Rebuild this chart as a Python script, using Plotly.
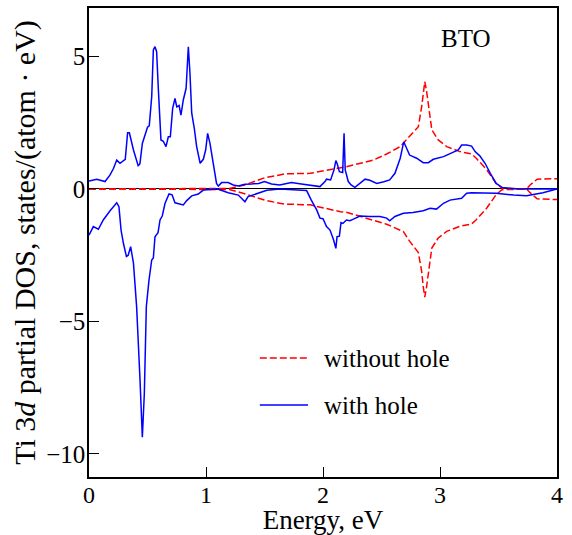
import plotly.graph_objects as go

# ---- data ----
blue_up_x = [0.000, 0.066, 0.137, 0.180, 0.210, 0.237, 0.265, 0.310, 0.330, 0.345,
             0.380, 0.420, 0.435, 0.456, 0.500, 0.515, 0.536, 0.550, 0.564, 0.578,
             0.593, 0.615, 0.635, 0.658, 0.678, 0.695, 0.715, 0.735, 0.750, 0.770,
             0.786, 0.806, 0.830, 0.849, 0.863, 0.878, 0.900, 0.920, 0.950, 0.977,
             0.997, 1.014, 1.034, 1.063, 1.090, 1.105, 1.134, 1.190, 1.233, 1.276,
             1.333, 1.390, 1.450, 1.500, 1.560, 1.630, 1.730, 1.800, 1.974, 2.017,
             2.030, 2.065, 2.094, 2.110, 2.120, 2.140, 2.168, 2.180, 2.190, 2.216,
             2.240, 2.273, 2.316, 2.360, 2.400, 2.460, 2.520, 2.570, 2.615, 2.660,
             2.690, 2.710, 2.740, 2.800, 2.857, 2.900, 2.943, 3.030, 3.110, 3.156,
             3.185, 3.228, 3.270, 3.300, 3.340, 3.385, 3.430, 3.480, 3.530, 3.630,
             3.800, 4.000]
blue_up_y = [0.30, 0.37, 0.28, 0.53, 0.78, 1.09, 0.97, 1.12, 2.12, 2.12,
             1.47, 0.88, 0.95, 1.72, 2.33, 2.38, 3.48, 5.25, 5.37, 5.18,
             3.74, 1.85, 1.80, 1.60, 1.97, 1.97, 3.04, 3.42, 3.10, 3.15,
             2.79, 3.36, 3.80, 5.37, 4.36, 2.86, 2.29, 1.60, 0.97, 1.12,
             1.47, 2.10, 1.72, 0.84, 0.21, 0.11, 0.24, 0.24, 0.15, 0.11,
             0.18, 0.19, 0.21, 0.28, 0.19, 0.15, 0.24, 0.20, 0.09, 0.28,
             0.37, 0.34, 0.72, 1.07, 0.97, 0.65, 0.62, 2.10, 0.72, 0.28,
             0.15, 0.06, 0.21, 0.37, 0.33, 0.21, 0.27, 0.34, 0.59, 1.16,
             1.78, 1.60, 1.28, 1.16, 0.99, 0.99, 1.12, 1.22, 1.37, 1.47,
             1.66, 1.66, 1.62, 1.41, 1.25, 0.97, 0.59, 0.21, 0.06, 0.01,
             0.00, 0.00]

blue_dn_x = [0.000, 0.037, 0.080, 0.122, 0.180, 0.237, 0.256, 0.274, 0.294, 0.320,
             0.335, 0.356, 0.380, 0.407, 0.436, 0.456, 0.473, 0.490, 0.513, 0.536,
             0.550, 0.564, 0.590, 0.607, 0.626, 0.650, 0.684, 0.710, 0.735, 0.778,
             0.806, 0.835, 0.878, 0.934, 0.977, 1.100, 1.190, 1.276, 1.333, 1.360,
             1.447, 1.520, 1.630, 1.860, 1.900, 1.946, 1.974, 2.000, 2.030, 2.060,
             2.090, 2.110, 2.120, 2.140, 2.154, 2.170, 2.200, 2.230, 2.260, 2.316,
             2.400, 2.487, 2.544, 2.570, 2.615, 2.687, 2.770, 2.857, 2.915, 2.970,
             3.030, 3.085, 3.185, 3.228, 3.270, 3.480, 3.630, 3.740, 3.880, 4.000]
blue_dn_y = [-1.74, -1.42, -1.52, -1.17, -0.82, -0.52, -0.67, -1.55, -2.05, -2.55,
             -2.50, -2.18, -2.80, -4.44, -7.20, -9.37, -7.71, -4.44, -3.43, -2.68,
             -2.60, -1.80, -1.65, -1.17, -1.02, -0.54, -0.19, -0.22, -0.52, -0.57,
             -0.60, -0.44, -0.26, -0.19, -0.04, 0.00, -0.14, -0.23, -0.48, -0.29,
             -0.16, -0.05, 0.00, -0.06, -0.42, -0.79, -1.10, -1.12, -1.42, -1.55,
             -1.92, -2.24, -1.80, -1.78, -1.27, -1.30, -1.17, -1.20, -1.14, -1.02,
             -1.04, -1.04, -1.10, -1.20, -1.04, -0.92, -0.89, -0.82, -0.73, -0.76,
             -0.54, -0.42, -0.35, -0.16, -0.14, -0.16, -0.23, -0.26, -0.14, 0.00]

red_up_x = [0.00, 1.10, 1.20, 1.33, 1.42, 1.50, 1.63, 1.675, 1.89, 2.06,
            2.20, 2.43, 2.544, 2.66, 2.74, 2.815, 2.843, 2.857, 2.870, 2.885,
            2.90, 2.93, 2.985, 3.057, 3.17, 3.27, 3.31, 3.40, 3.48, 3.53,
            3.74, 3.77, 3.83, 4.00]
red_up_y = [0.00, 0.00, 0.02, 0.15, 0.30, 0.42, 0.53, 0.57, 0.59, 0.74,
            0.84, 1.09, 1.32, 1.60, 1.97, 2.35, 3.10, 3.70, 4.05, 3.70,
            3.23, 2.23, 1.85, 1.60, 1.41, 1.32, 1.16, 0.72, 0.21, 0.03,
            0.00, 0.15, 0.37, 0.39]

red_dn_x = [0.00, 1.10, 1.20, 1.33, 1.42, 1.50, 1.63, 1.675, 1.89, 2.15,
            2.20, 2.43, 2.544, 2.687, 2.74, 2.815, 2.843, 2.857, 2.870, 2.885,
            2.90, 2.93, 2.985, 3.057, 3.17, 3.27, 3.31, 3.40, 3.48, 3.53,
            3.74, 3.77, 3.83, 4.00]
red_dn_y = [0.00, 0.00, -0.02, -0.18, -0.32, -0.42, -0.54, -0.57, -0.60, -0.86,
            -0.88, -1.17, -1.33, -1.61, -1.97, -2.40, -3.10, -3.70, -4.08, -3.70,
            -3.23, -2.23, -1.85, -1.60, -1.41, -1.32, -1.16, -0.72, -0.21, -0.03,
            0.00, -0.14, -0.37, -0.40]

x_ticks = [0, 1, 2, 3, 4]
y_ticks = [-10, -5, 0, 5]
legend_labels = ["without hole", "with hole"]
panel_label = "BTO"

RED = "#ff0000"
BLUE = "#0000ff"
FONT = "Liberation Serif"

fig = go.Figure()
for xs, ys in [(red_up_x, red_up_y), (red_dn_x, red_dn_y)]:
    fig.add_trace(go.Scatter(x=xs, y=ys, mode="lines", showlegend=False,
                             line=dict(color=RED, width=1.5, dash="7px,3px")))
for xs, ys in [(blue_up_x, blue_up_y), (blue_dn_x, blue_dn_y)]:
    fig.add_trace(go.Scatter(x=xs, y=ys, mode="lines", showlegend=False,
                             line=dict(color=BLUE, width=1.5)))

# manual legend (paper coordinates)
leg_items = [(legend_labels[0], RED, "7px,3px", 0.2537),
             (legend_labels[1], BLUE, "solid", 0.1535)]
for label, col, dash, yp in leg_items:
    fig.add_shape(type="line", xref="paper", yref="paper",
                  x0=0.365, x1=0.468, y0=yp, y1=yp,
                  line=dict(color=col, width=1.5, dash=dash))
    fig.add_annotation(xref="paper", yref="paper", x=0.497, y=yp,
                       text=label, showarrow=False, xanchor="left", yanchor="middle",
                       font=dict(family=FONT, size=25, color="black"))

fig.add_annotation(xref="paper", yref="paper", x=0.806, y=0.934, text=panel_label,
                   showarrow=False, xanchor="center", yanchor="middle",
                   font=dict(family=FONT, size=25, color="black"))

fig.update_layout(
    width=572, height=535,
    margin=dict(l=89, r=15, t=8, b=58),
    paper_bgcolor="white", plot_bgcolor="white",
    font=dict(family=FONT, size=25, color="black"),
    xaxis=dict(range=[0, 4], tickvals=x_ticks, ticks="inside", ticklen=10, tickwidth=1.2,
               tickcolor="black", showline=True, linecolor="black", linewidth=1.5,
               mirror=True, showgrid=False, zeroline=False, automargin=False,
               tickfont=dict(size=24), ticklabelstandoff=-5,
               title=dict(text="Energy, eV", standoff=0, font=dict(size=27))),
    yaxis=dict(range=[-10.87, 6.83], tickvals=y_ticks, ticks="inside", ticklen=10,
               tickwidth=1.2, tickcolor="black", showline=True, linecolor="black",
               linewidth=1.5, mirror=True, showgrid=False, automargin=False,
               zeroline=True, zerolinecolor="black", zerolinewidth=1,
               tickfont=dict(size=25), ticklabelstandoff=-3,
               title=dict(text="Ti 3<i>d</i> partial DOS, states/(atom · eV)",
                          standoff=2, font=dict(size=30))),
)

fig.write_html("out.html")
